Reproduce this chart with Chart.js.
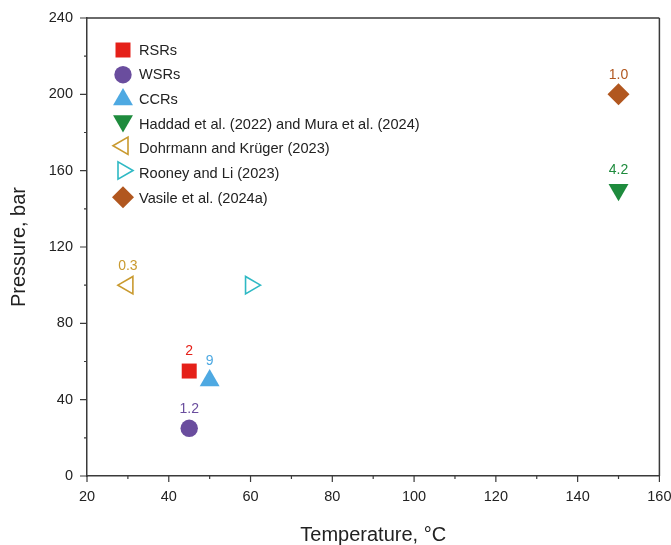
<!DOCTYPE html>
<html>
<head>
<meta charset="utf-8">
<script src="https://cdn.jsdelivr.net/npm/chart.js@4.4.1/dist/chart.umd.min.js"></script>
<style>
  html, body { margin: 0; padding: 0; background: #ffffff; }
  #wrap { width: 671px; height: 545px; position: relative; }
</style>
</head>
<body>
<div id="wrap"><canvas id="c"></canvas></div>
<script>
// Reactor / study groups and their operating conditions
const categories = [
  'RSRs',
  'WSRs',
  'CCRs',
  'Haddad et al. (2022) and Mura et al. (2024)',
  'Dohrmann and Krüger (2023)',
  'Rooney and Li (2023)',
  'Vasile et al. (2024a)'
];
const temperatures = [45, 45, 50, 150, 30, 60, 150];   // °C
const pressures    = [55, 25, 50, 150, 100, 100, 200]; // bar
const valueLabels  = ['2', '1.2', '9', '4.2', '0.3', '', '1.0'];

// Axis tick labels
const xTickLabels = [20, 40, 60, 80, 100, 120, 140, 160];
const yTickLabels = [0, 40, 80, 120, 160, 200, 240];
const xMinorTicks = [30, 50, 70, 90, 110, 130, 150];
const yMinorTicks = [20, 60, 100, 140, 180, 220];

// Marker look for each group
const markerColors = ['#e52019', '#6a4d9e', '#4ea9e2', '#1e8b3d', '#c99a2f', '#2fb9c4', '#b1571f'];
const markerStyles = ['rect', 'circle', 'triangle', 'triangle', 'triangle', 'triangle', 'rectRot'];
const markerRotation = [0, 0, 0, 180, -90, 90, 0];
const markerRadius = [10.6, 8.7, 11.5, 11.5, 10, 10, 11];
const markerHollow = [false, false, false, false, true, true, false];
// small vertical nudges so legend symbols sit level with their text
const legendNudge = [0, 0, 0, -3, -3, -3, -1];

const FONT = "'Liberation Sans', Arial, sans-serif";
const AXIS_COLOR = '#3a3a3a';
const TEXT_COLOR = '#222222';

const datasets = categories.map((name, i) => ({
  label: name,
  data: [{ x: temperatures[i], y: pressures[i] }],
  pointStyle: markerStyles[i],
  rotation: markerRotation[i],
  pointRadius: markerRadius[i],
  pointHoverRadius: markerRadius[i],
  backgroundColor: markerHollow[i] ? 'rgba(255,255,255,0)' : markerColors[i],
  borderColor: markerColors[i],
  borderWidth: markerHollow[i] ? 1.6 : 0,
  clip: false
}));

function drawMarker(ctx, style, x, y, r, rot, fill, stroke, bw) {
  const opts = { pointStyle: style, radius: r, rotation: rot, borderWidth: bw };
  ctx.save();
  ctx.fillStyle = fill;
  ctx.strokeStyle = stroke;
  ctx.lineWidth = bw;
  if (Chart.helpers && Chart.helpers.drawPoint) {
    Chart.helpers.drawPoint(ctx, opts, x, y);
  }
  ctx.restore();
}

// Frame, tick marks, value labels and the in-plot legend
const decorations = {
  id: 'decorations',
  afterDatasetsDraw(chart) {
    const { ctx, chartArea: a, scales: { x, y } } = chart;
    ctx.save();
    ctx.strokeStyle = AXIS_COLOR;
    ctx.lineWidth = 1.5;
    ctx.beginPath();
    // top and right frame lines
    ctx.moveTo(a.left, a.top); ctx.lineTo(a.right, a.top);
    ctx.moveTo(a.right, a.top); ctx.lineTo(a.right, a.bottom);
    ctx.stroke();

    ctx.lineWidth = 1.2;
    ctx.beginPath();
    xTickLabels.forEach(v => { const px = x.getPixelForValue(v); ctx.moveTo(px, a.bottom); ctx.lineTo(px, a.bottom + 6); });
    xMinorTicks.forEach(v => { const px = x.getPixelForValue(v); ctx.moveTo(px, a.bottom); ctx.lineTo(px, a.bottom + 3); });
    yTickLabels.forEach(v => { const py = y.getPixelForValue(v); ctx.moveTo(a.left, py); ctx.lineTo(a.left - 7, py); });
    yMinorTicks.forEach(v => { const py = y.getPixelForValue(v); ctx.moveTo(a.left, py); ctx.lineTo(a.left - 3, py); });
    ctx.stroke();

    // value labels above the markers
    ctx.font = '14px ' + FONT;
    ctx.textAlign = 'center';
    ctx.textBaseline = 'middle';
    categories.forEach((_, i) => {
      if (!valueLabels[i]) return;
      const px = x.getPixelForValue(temperatures[i]);
      const py = y.getPixelForValue(pressures[i]);
      ctx.fillStyle = markerColors[i];
      ctx.fillText(valueLabels[i], px, py - 19.5);
    });

    // legend
    const lx = 123, tx = 139, ly0 = 50, step = 24.7;
    ctx.textAlign = 'left';
    categories.forEach((name, i) => {
      const ly = ly0 + i * step;
      const ds = chart.data.datasets[i];
      drawMarker(ctx, markerStyles[i], lx, ly + legendNudge[i], markerRadius[i], markerRotation[i],
        ds.backgroundColor, ds.borderColor, ds.borderWidth);
      ctx.fillStyle = TEXT_COLOR;
      ctx.font = '14.6px ' + FONT;
      ctx.fillText(name, tx, ly + 0.5);
    });
    ctx.restore();
  }
};

new Chart(document.getElementById('c'), {
  type: 'scatter',
  data: { datasets },
  options: {
    responsive: true,
    maintainAspectRatio: false,
    animation: false,
    events: [],
    layout: { padding: { top: 18, right: 11, left: 0, bottom: 0 } },
    plugins: { legend: { display: false }, tooltip: { enabled: false } },
    scales: {
      x: {
        type: 'linear',
        min: 20, max: 160,
        afterBuildTicks: s => { s.ticks = xTickLabels.map(v => ({ value: v })); },
        afterFit: s => { s.height = 69; s.paddingLeft = 0; s.paddingRight = 0; },
        grid: { display: false, drawTicks: false },
        border: { display: true, color: AXIS_COLOR, width: 1.5 },
        ticks: { padding: 12, color: TEXT_COLOR, font: { family: FONT, size: 14.5 }, maxRotation: 0 },
        title: {
          display: true, text: 'Temperature, °C', color: TEXT_COLOR,
          font: { family: FONT, size: 20, lineHeight: 1 }, padding: { top: 0, bottom: 0 }
        }
      },
      y: {
        type: 'linear',
        min: 0, max: 240,
        afterBuildTicks: s => { s.ticks = yTickLabels.map(v => ({ value: v })); },
        afterFit: s => { s.width = 87; s.paddingTop = 0; s.paddingBottom = 0; },
        grid: { display: false, drawTicks: false },
        border: { display: true, color: AXIS_COLOR, width: 1.5 },
        ticks: { padding: 14, color: TEXT_COLOR, font: { family: FONT, size: 14.5 } },
        title: {
          display: true, text: 'Pressure, bar', color: TEXT_COLOR,
          font: { family: FONT, size: 20, lineHeight: 1 }, padding: { top: 9, bottom: 0 }
        }
      }
    }
  },
  plugins: [decorations]
});
</script>
</body>
</html>
